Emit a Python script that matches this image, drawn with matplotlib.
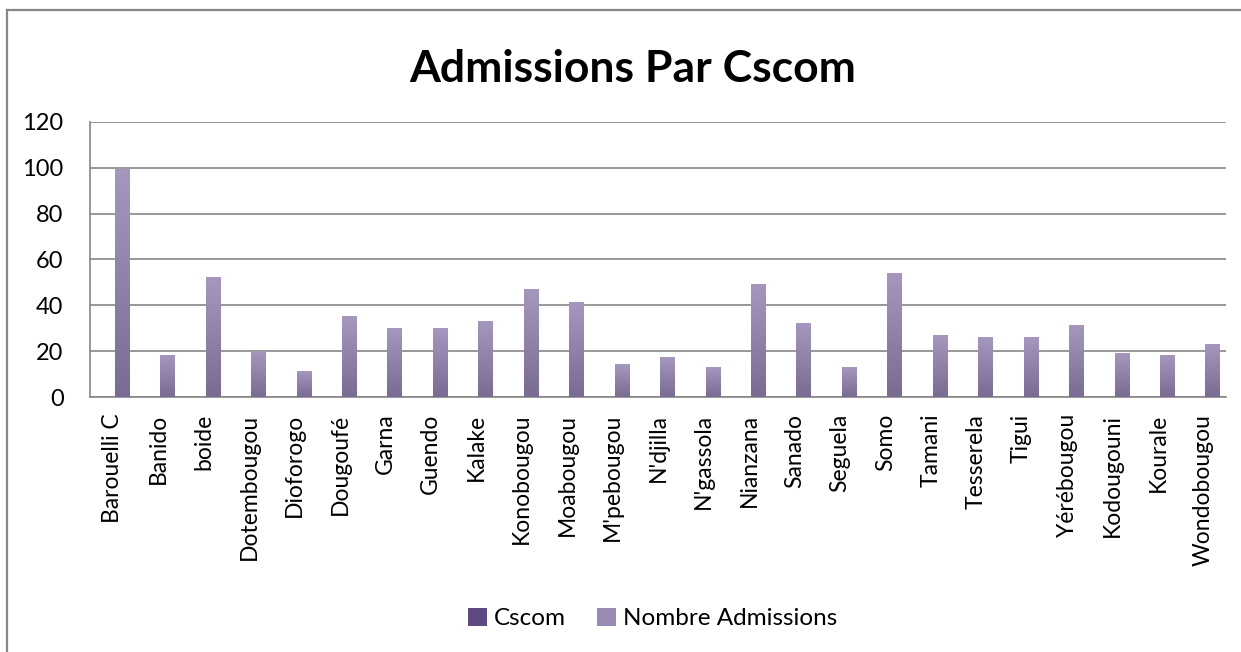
import numpy as np
import matplotlib
matplotlib.use("Agg")
import matplotlib.pyplot as plt
from matplotlib.colors import LinearSegmentedColormap
from matplotlib.patches import Patch
from matplotlib.lines import Line2D

plt.rcParams['font.family'] = ['Lato', 'DejaVu Sans']

# Admissions par Cscom
cscoms = ["Barouelli C", "Banido", "boide", "Dotembougou", "Dioforogo", "Dougoufé",
          "Garna", "Guendo", "Kalake", "Konobougou", "Moabougou", "M'pebougou",
          "N'djilla", "N'gassola", "Nianzana", "Sanado", "Seguela", "Somo",
          "Tamani", "Tesserela", "Tigui", "Yérébougou", "Kodougouni", "Kourale",
          "Wondobougou"]
admissions = [99, 18, 52, 20, 11, 35, 30, 30, 33, 47, 41, 14, 17, 13, 49, 32,
              13, 54, 27, 26, 26, 31, 19, 18, 23]

light = "#a697bf"
dark = "#7a6b92"
grad = LinearSegmentedColormap.from_list("purple", [dark, light])

fig = plt.figure(figsize=(12.41, 6.52), dpi=100)
ax = fig.add_axes([0.0725, 0.391, 0.9155, 0.4223])

x = np.arange(len(cscoms))
bars = ax.bar(x + 0.2, admissions, width=0.31, color=light, zorder=2)

# vertical gradient on each bar, light at the top
g = np.linspace(0, 1, 256).reshape(-1, 1)
for b in bars:
    x0, w, h = b.get_x(), b.get_width(), b.get_height()
    ax.imshow(g, extent=[x0, x0 + w, 0, h], origin="lower", cmap=grad,
              aspect="auto", zorder=3)

ax.set_xlim(-0.5, len(cscoms) - 0.5)
ax.set_ylim(0, 120)
ax.set_yticks(range(0, 121, 20))
ax.yaxis.grid(True, color="#868686", linewidth=1.2, zorder=0)
ax.set_axisbelow(True)

ax.set_xticks(x)
ax.set_xticklabels(cscoms, rotation=90, fontsize=16.5)
ax.tick_params(axis="x", length=0, pad=12)
ax.tick_params(axis="y", length=0, pad=19, labelsize=17)

for side in ["top", "right"]:
    ax.spines[side].set_visible(False)
for side in ["left", "bottom"]:
    ax.spines[side].set_color("#868686")
    ax.spines[side].set_linewidth(1.2)

fig.text(0.51, 0.894, "Admissions Par Cscom", ha="center", va="center",
         fontsize=32, fontweight="bold")

handles = [Patch(facecolor="#5e4a7e"), Patch(facecolor="#9a8bb3")]
fig.legend(handles, ["Cscom", "Nombre Admissions"], loc="center",
           bbox_to_anchor=(0.526, 0.051), ncol=2, frameon=False, fontsize=17.5,
           handlelength=0.75, handleheight=0.75, handletextpad=0.3,
           columnspacing=1.3)

# outer chart frame (top and left edges)
fig.add_artist(Line2D([7 / 1241, 1], [1 - 10 / 652] * 2, color="#878787", lw=1.6))
fig.add_artist(Line2D([7 / 1241] * 2, [0, 1 - 10 / 652], color="#878787", lw=1.6))

fig.savefig("out.png", dpi=100, facecolor="white")
